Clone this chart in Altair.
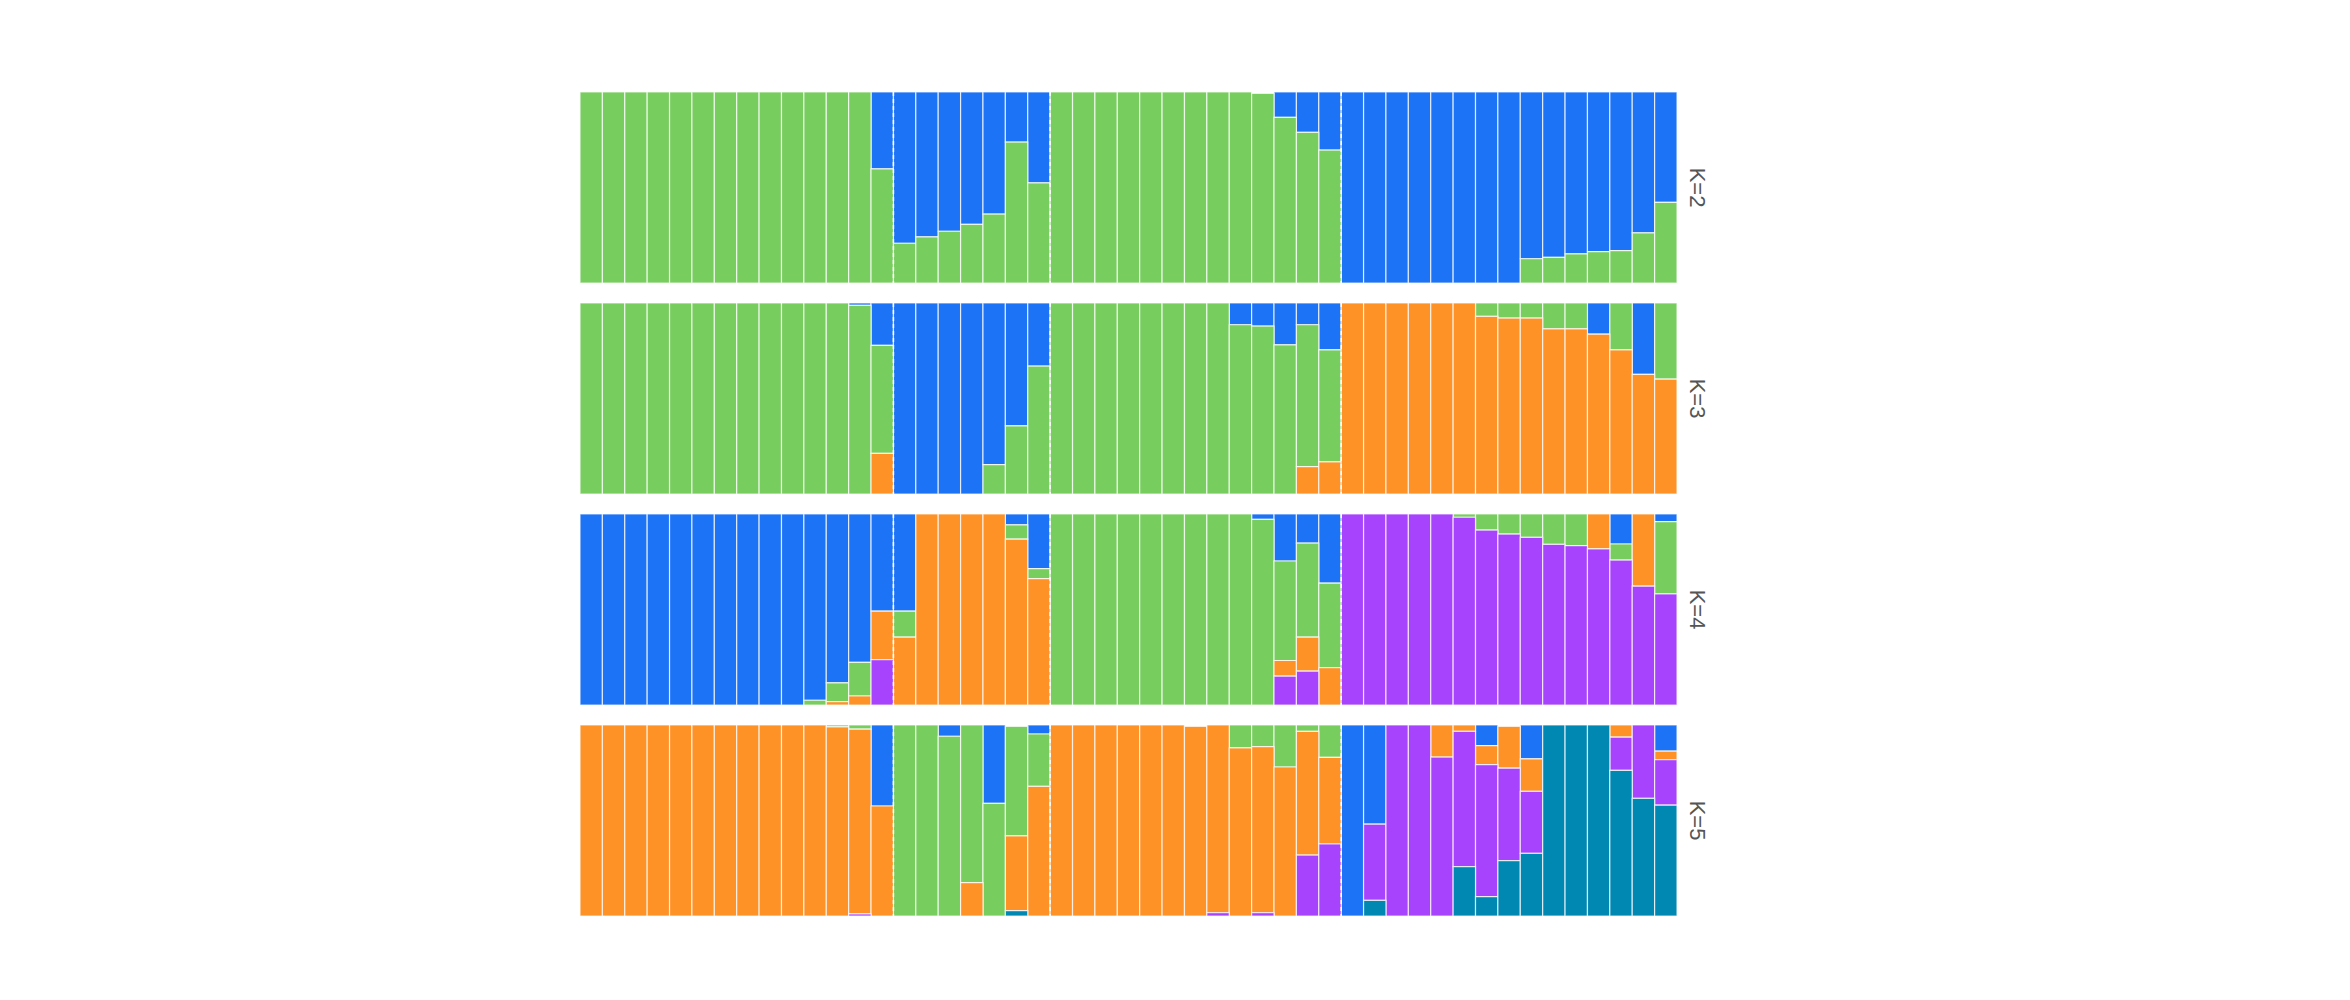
import altair as alt
import pandas as pd

n_ind = 49
pop_starts = [14, 21, 34]  # index of first individual in populations 2,3,4

cluster_colors = ["#1d73f6", "#78cd5f", "#fe9227", "#a843fd", "#0088b3"]

# K=2
k2_blue = [0, 0, 0, 0, 0, 0, 0, 0, 0, 0, 0, 0, 0, 0.403,
           0.792, 0.759, 0.729, 0.693, 0.639, 0.262, 0.476,
           0, 0, 0, 0, 0, 0, 0, 0, 0, 0, 0.133, 0.211, 0.304,
           1, 1, 1, 1, 1, 1, 1, 1, 0.873, 0.866, 0.848, 0.836, 0.831, 0.738, 0.578]
k2_green = [1, 1, 1, 1, 1, 1, 1, 1, 1, 1, 1, 1, 1, 0.597,
            0.208, 0.241, 0.271, 0.307, 0.361, 0.738, 0.524,
            1, 1, 1, 1, 1, 1, 1, 1, 1, 0.993, 0.867, 0.789, 0.696,
            0, 0, 0, 0, 0, 0, 0, 0, 0.127, 0.134, 0.152, 0.164, 0.169, 0.262, 0.422]

# K=3
k3_blue = [0, 0, 0, 0, 0, 0, 0, 0, 0, 0, 0, 0, 0.012, 0.222,
           1, 1, 1, 1, 0.846, 0.643, 0.330,
           0, 0, 0, 0, 0, 0, 0, 0, 0.114, 0.121, 0.219, 0.114, 0.245,
           0, 0, 0, 0, 0, 0, 0, 0, 0, 0, 0, 0.163, 0, 0.374, 0]
k3_green = [1, 1, 1, 1, 1, 1, 1, 1, 1, 1, 1, 1, 0.988, 0.565,
            0, 0, 0, 0, 0.154, 0.357, 0.670,
            1, 1, 1, 1, 1, 1, 1, 1, 0.886, 0.879, 0.781, 0.743, 0.587,
            0, 0, 0, 0, 0, 0, 0.070, 0.079, 0.079, 0.135, 0.135, 0, 0.245, 0, 0.399]
k3_orange = [0, 0, 0, 0, 0, 0, 0, 0, 0, 0, 0, 0, 0, 0.213,
             0, 0, 0, 0, 0, 0, 0,
             0, 0, 0, 0, 0, 0, 0, 0, 0, 0, 0, 0.143, 0.168,
             1, 1, 1, 1, 1, 1, 0.930, 0.921, 0.921, 0.865, 0.865, 0.837, 0.755, 0.626, 0.601]

# K=4
k4_blue = [1, 1, 1, 1, 1, 1, 1, 1, 1, 1, 0.975, 0.884, 0.777, 0.509,
           0.509, 0, 0, 0, 0, 0.057, 0.286,
           0, 0, 0, 0, 0, 0, 0, 0, 0, 0.028, 0.246, 0.152, 0.362,
           0, 0, 0, 0, 0, 0, 0, 0, 0, 0, 0, 0, 0.157, 0, 0.040]
k4_green = [0, 0, 0, 0, 0, 0, 0, 0, 0, 0, 0.025, 0.098, 0.176, 0,
            0.136, 0, 0, 0, 0, 0.075, 0.052,
            1, 1, 1, 1, 1, 1, 1, 1, 1, 0.972, 0.521, 0.493, 0.443,
            0, 0, 0, 0, 0, 0.017, 0.084, 0.105, 0.122, 0.159, 0.166, 0, 0.084, 0, 0.378]
k4_orange = [0, 0, 0, 0, 0, 0, 0, 0, 0, 0, 0, 0.018, 0.047, 0.253,
             0.355, 1, 1, 1, 1, 0.868, 0.662,
             0, 0, 0, 0, 0, 0, 0, 0, 0, 0, 0.082, 0.178, 0.195,
             0, 0, 0, 0, 0, 0, 0, 0, 0, 0, 0, 0.183, 0, 0.378, 0]
k4_purple = [0, 0, 0, 0, 0, 0, 0, 0, 0, 0, 0, 0, 0, 0.238,
             0, 0, 0, 0, 0, 0, 0,
             0, 0, 0, 0, 0, 0, 0, 0, 0, 0, 0.151, 0.177, 0,
             1, 1, 1, 1, 1, 0.983, 0.916, 0.895, 0.878, 0.841, 0.834, 0.817, 0.759, 0.622, 0.582]

# K=5
k5_blue = [0, 0, 0, 0, 0, 0, 0, 0, 0, 0, 0, 0, 0, 0.424,
           0, 0, 0.059, 0, 0.410, 0, 0.047,
           0, 0, 0, 0, 0, 0, 0, 0, 0, 0, 0, 0, 0,
           1, 0.519, 0, 0, 0, 0, 0.108, 0, 0.177, 0, 0, 0, 0, 0, 0.137]
k5_green = [0, 0, 0, 0, 0, 0, 0, 0, 0, 0, 0, 0.010, 0.022, 0,
            1, 1, 0.941, 0.825, 0.590, 0.573, 0.274,
            0, 0, 0, 0, 0, 0, 0, 0, 0.120, 0.113, 0.220, 0.033, 0.170,
            0, 0, 0, 0, 0, 0, 0, 0, 0, 0, 0, 0, 0, 0, 0]
k5_orange = [1, 1, 1, 1, 1, 1, 1, 1, 1, 1, 1, 0.990, 0.967, 0.576,
             0, 0, 0, 0.175, 0, 0.392, 0.679,
             1, 1, 1, 1, 1, 1, 0.993, 0.983, 0.880, 0.870, 0.780, 0.648, 0.453,
             0, 0, 0, 0, 0.168, 0.033, 0.099, 0.219, 0.170, 0, 0, 0, 0.064, 0, 0.045]
k5_purple = [0, 0, 0, 0, 0, 0, 0, 0, 0, 0, 0, 0, 0.011, 0,
             0, 0, 0, 0, 0, 0, 0,
             0, 0, 0, 0, 0, 0, 0, 0.017, 0, 0.017, 0, 0.319, 0.377,
             0, 0.399, 1, 1, 0.832, 0.708, 0.692, 0.484, 0.325, 0, 0, 0, 0.174, 0.384, 0.238]
k5_teal = [0, 0, 0, 0, 0, 0, 0, 0, 0, 0, 0, 0, 0, 0,
           0, 0, 0, 0, 0, 0.028, 0,
           0, 0, 0, 0, 0, 0, 0, 0, 0, 0, 0, 0, 0,
           0, 0.082, 0, 0, 0, 0.259, 0.101, 0.290, 0.328, 1, 1, 1, 0.762, 0.616, 0.580]

runs = {
    "K=2": [k2_blue, k2_green],
    "K=3": [k3_blue, k3_green, k3_orange],
    "K=4": [k4_blue, k4_green, k4_orange, k4_purple],
    "K=5": [k5_blue, k5_green, k5_orange, k5_purple, k5_teal],
}

rows = []
for k, clusters in runs.items():
    for c, vals in enumerate(clusters, start=1):
        for i, v in enumerate(vals):
            rows.append({"K": k, "cluster": c, "ind": i, "ind2": i + 1,
                         "value": v, "boundary": 1 if i in pop_starts else 0})
df = pd.DataFrame(rows)

W, H = 1097, 191

bars = alt.Chart().transform_filter(
    "datum.value > 0"
).transform_stack(
    stack="value", groupby=["K", "ind"], as_=["y0", "y1"],
    sort=[alt.SortField("cluster", order="descending")],
).mark_rect(stroke="white", strokeWidth=1.2, strokeOpacity=0.75).encode(
    x=alt.X("ind:Q", scale=alt.Scale(domain=[0, n_ind], nice=False, zero=False), axis=None),
    x2="ind2:Q",
    y=alt.Y("y0:Q", scale=alt.Scale(domain=[0, 1], nice=False), axis=None),
    y2="y1:Q",
    color=alt.Color("cluster:N", scale=alt.Scale(domain=[1, 2, 3, 4, 5], range=cluster_colors), legend=None),
)

rules = alt.Chart().mark_rule(color="white", strokeWidth=1.5, strokeDash=[4, 3]).encode(
    x=alt.X("ind:Q"),
).transform_filter("datum.boundary == 1 && datum.cluster == 1")

chart = alt.layer(bars, rules, data=df).properties(width=W, height=H).facet(
    row=alt.Row("K:N", sort=["K=2", "K=3", "K=4", "K=5"],
                header=alt.Header(title=None, labelOrient="right", labelAngle=90,
                                  labelFontSize=22, labelColor="#555555",
                                  labelFont="Liberation Sans", labelPadding=8)),
    spacing=20,
    bounds="flush",
).properties(
    padding={"left": 571, "top": 83, "right": 5, "bottom": 5}
).configure_view(stroke=None)

chart.save("out.html", embed_options={"renderer": "svg", "actions": False})
